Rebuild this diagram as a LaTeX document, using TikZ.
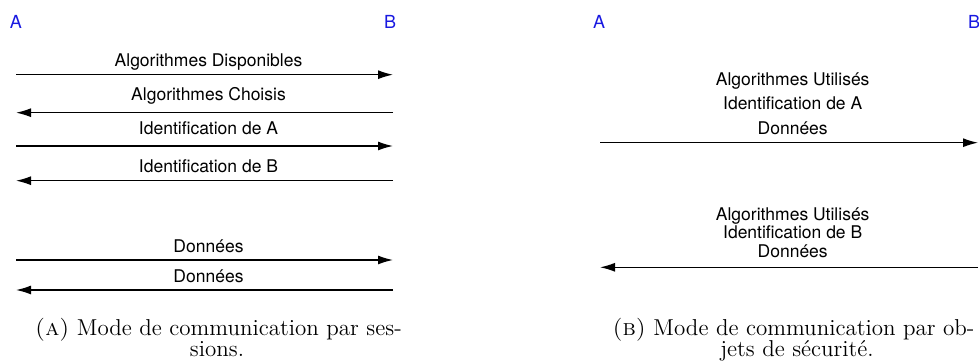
\documentclass[tikz,border=0pt]{standalone}
\usepackage{fontspec}
\setsansfont{TeX Gyre Heros}
\usetikzlibrary{arrows.meta, positioning}
\definecolor{partycol}{RGB}{25, 25, 225}

\begin{document}
\begin{tikzpicture}[
    x=0.5pt, y=-0.5pt,
    party/.style = {font=\fontsize{9}{10.5}\selectfont\sffamily, text=partycol, inner sep=0pt, anchor=base},
    msg/.style = {font=\fontsize{8.75}{10.5}\selectfont\sffamily, inner sep=0pt, anchor=base},
    msgblock/.style = {msg, align=center, anchor=south},
    arrow/.style = {line width=0.65pt, -{Latex[length=7.5pt, width=4.5pt]}},
    caption/.style = {font=\fontsize{11.5}{12}\selectfont, inner sep=0pt, anchor=base}
]
    \useasboundingbox (0,0) rectangle (979,362);

    % SESSION MODE (left)
    \node[party] (A1) at (16,29) {A};
    \node[party] (B1) at (390,29) {B};

    \coordinate (a11) at (16,74.7);   \coordinate (b11) at (393,74.7);
    \coordinate (a12) at (16,112.7);  \coordinate (b12) at (393,112.7);
    \coordinate (a13) at (16,146);    \coordinate (b13) at (393,146);
    \coordinate (a14) at (16,180.7);  \coordinate (b14) at (393,180.7);
    \coordinate (a15) at (16,260);    \coordinate (b15) at (393,260);
    \coordinate (a16) at (16,290);    \coordinate (b16) at (393,290);

    \node[msg] (algdisp) at (208.5,66.7) {Algorithmes Disponibles};
    \node[msg] (algchoix) at (208.5,100.7) {Algorithmes Choisis};
    \node[msg] (identA) at (208.5,134.3) {Identification de A};
    \node[msg] (identB) at (208.5,172.3) {Identification de B};
    \node[msg] (dataAB) at (208.5,252.7) {Données};
    \node[msg] (dataBA) at (208.5,282.7) {Données};

    \draw[arrow] (a11) -- (b11);
    \draw[arrow] (b12) -- (a12);
    \draw[arrow] (a13) -- (b13);
    \draw[arrow] (b14) -- (a14);
    \draw[arrow] (a15) -- (b15);
    \draw[arrow] (b16) -- (a16);

    \node[caption] (capA) at (218.5,336) {\textsc{(a)} Mode de communication par ses-};
    \node[caption] (capA2) at (217,357) {sions.};

    % SECURITY OBJECT MODE (right)
    \node[party] (A2) at (599,28.3) {A};
    \node[party] (B2) at (974,28.3) {B};

    \coordinate (a21) at (600,142.7);  \coordinate (b21) at (978,142.7);
    \coordinate (a22) at (600,267.3);  \coordinate (b22) at (978,267.3);

    \node[msgblock, font=\fontsize{8.75}{12.25}\selectfont\sffamily] (objA) at (792.7,135) {
        Algorithmes Utilisés\\
        Identification de A\\
        Données
    };
    \node[msgblock, font=\fontsize{8.75}{9.4}\selectfont\sffamily] (objB) at (792.7,258.3) {
        Algorithmes Utilisés\\
        Identification de B\\
        Données
    };

    \draw[arrow] (a21) -- (b21);
    \draw[arrow] (b22) -- (a22);

    \node[caption] (capB) at (793.5,336) {\textsc{(b)} Mode de communication par ob-};
    \node[caption] (capB2) at (797,357) {jets de sécurité.};

\end{tikzpicture}
\end{document}
